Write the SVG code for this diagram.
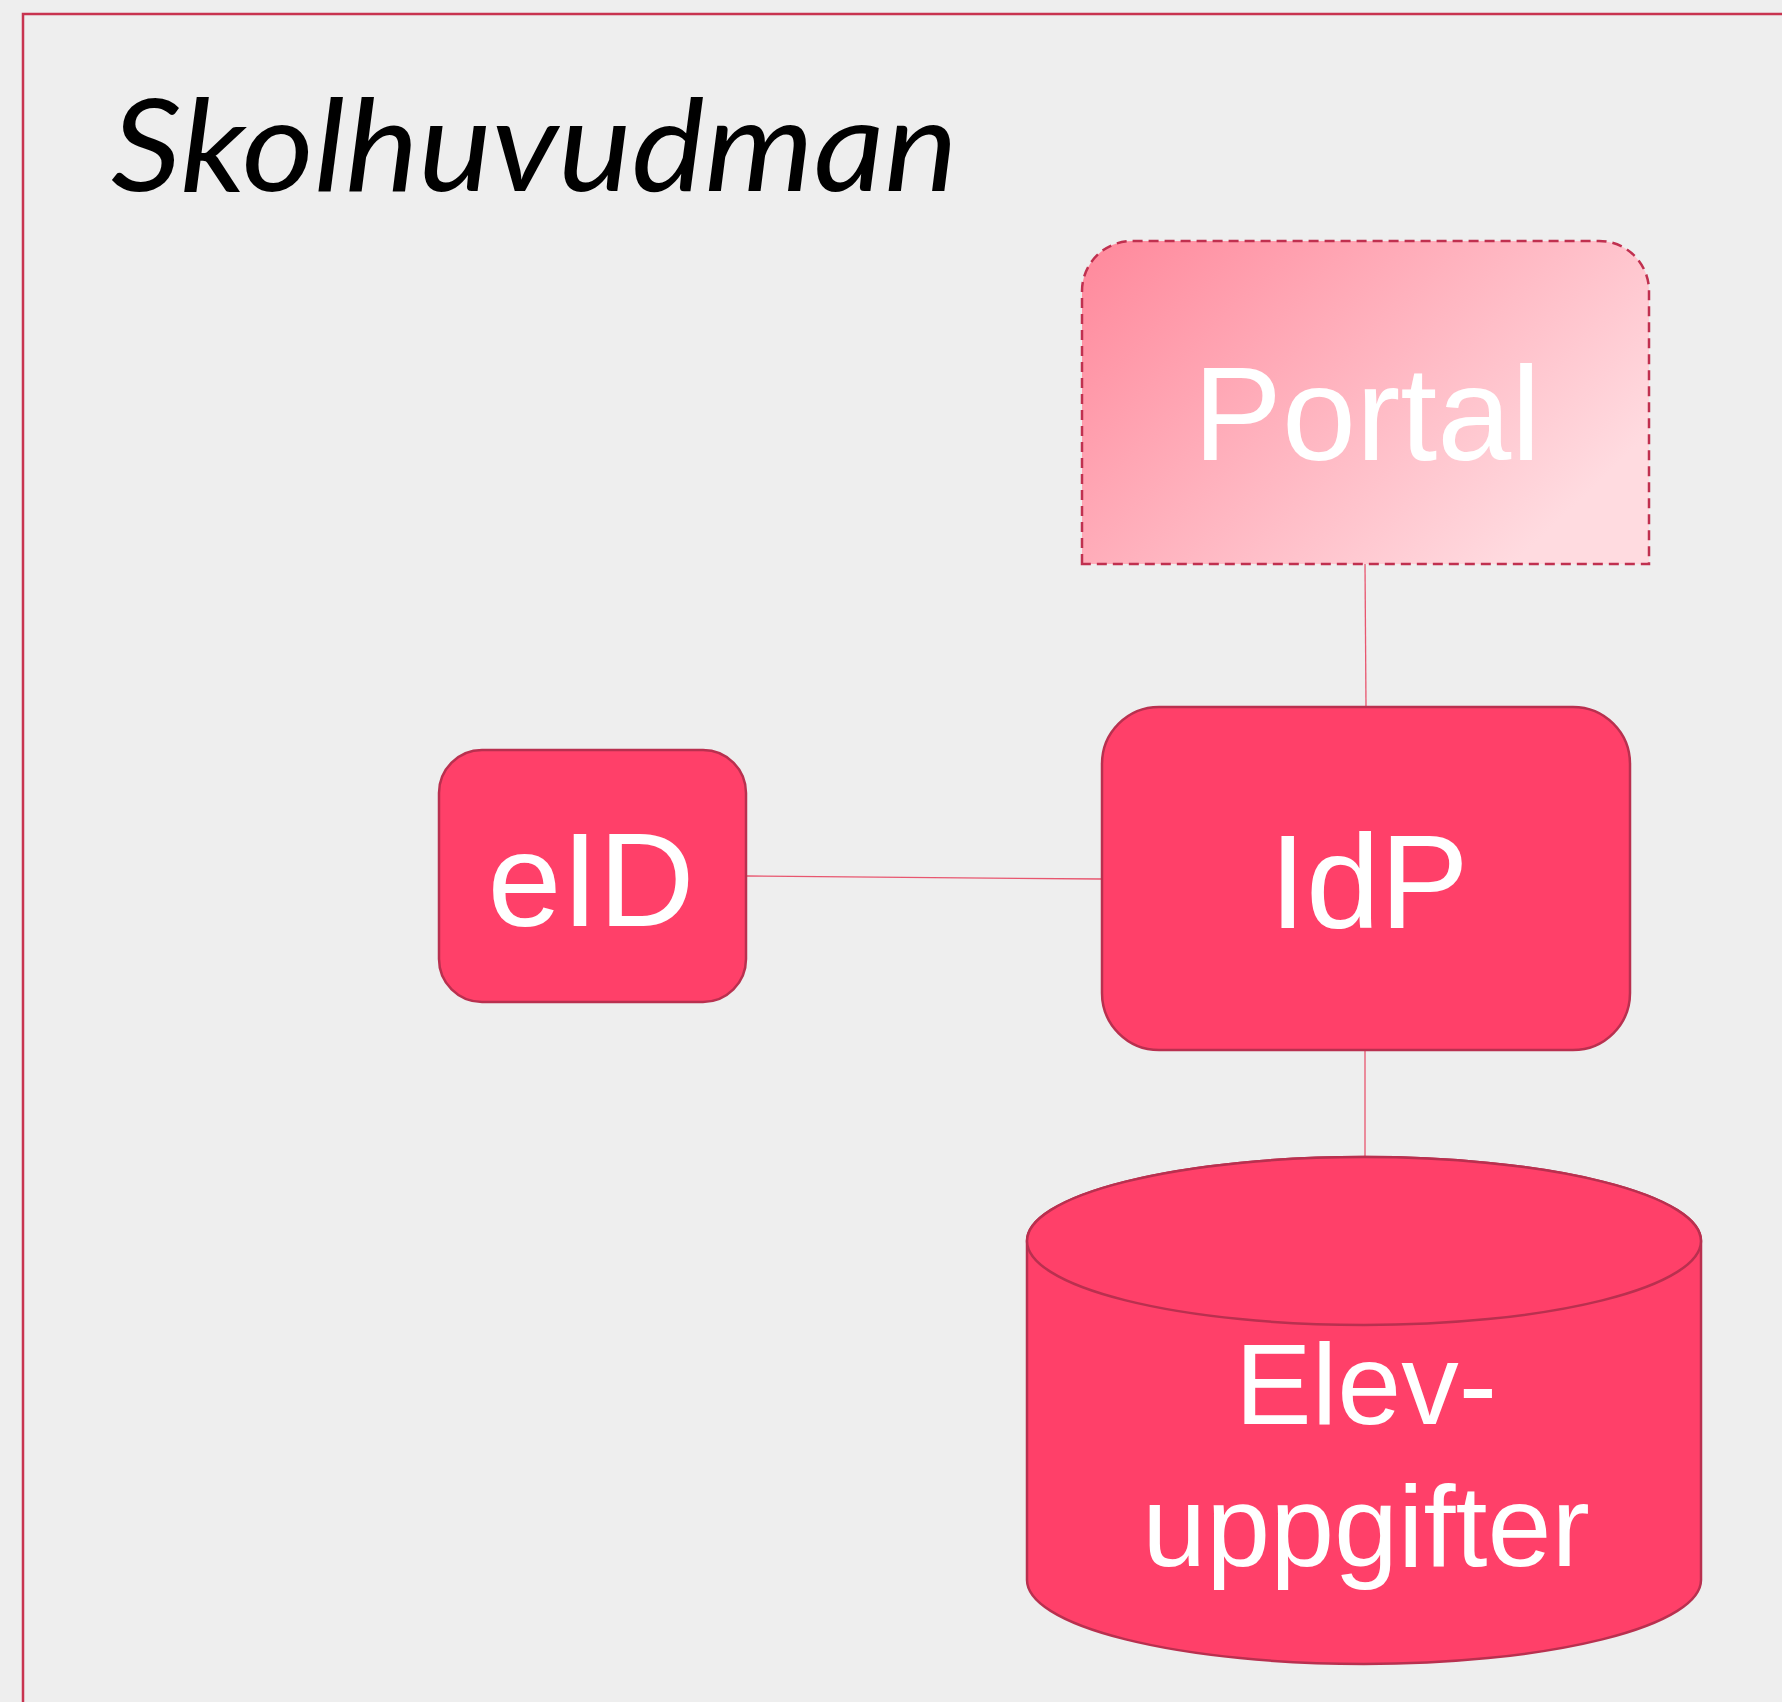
<svg xmlns="http://www.w3.org/2000/svg" width="1782" height="1702" viewBox="0 0 1782 1702">
<style>
.node{fill:#ff4069;stroke:#b9304f;stroke-width:2.5}
.lbl{font-family:"Liberation Sans",Arial,sans-serif;fill:#ffffff;text-anchor:middle}
.conn{stroke:#e8566f;stroke-width:1.3;fill:none}
</style>
<defs>
<linearGradient id="pg" x1="0" y1="0" x2="1" y2="0.6">
<stop offset="0" stop-color="#ff889b"/>
<stop offset="1" stop-color="#ffdbe0"/>
</linearGradient>
</defs>
<rect x="0" y="0" width="1782" height="1702" fill="#eeeeee"/>
<g id="frame">
<rect x="23" y="14" width="1800" height="1760" fill="none" stroke="#c8334f" stroke-width="2.5"/>
<text x="111" y="191" font-family="Lato,'Open Sans',sans-serif" font-style="italic" font-size="128" fill="#000000" textLength="847" lengthAdjust="spacingAndGlyphs">Skolhuvudman</text>
</g>
<g id="connectors">
<line class="conn" x1="1365" y1="564" x2="1366" y2="707"/>
<line class="conn" x1="746" y1="876" x2="1102" y2="879"/>
<line class="conn" x1="1365" y1="1050" x2="1365" y2="1158"/>
</g>
<g id="portal">
<path d="M1082,564 V291 A50,50 0 0 1 1132,241 H1599 A50,50 0 0 1 1649,291 V564 Z" fill="url(#pg)" stroke="#c0304f" stroke-width="2.5" stroke-dasharray="10,6"/>
<text class="lbl" x="1367" y="460" font-size="133">Portal</text>
</g>
<g id="eid">
<rect class="node" x="439" y="750" width="307" height="252" rx="43" ry="43"/>
<text class="lbl" x="591" y="926" font-size="133">eID</text>
</g>
<g id="idp">
<rect class="node" x="1102" y="707" width="528" height="343" rx="57" ry="57"/>
<text class="lbl" x="1369" y="928" font-size="133">IdP</text>
</g>
<g id="elevuppgifter">
<path class="node" d="M1027,1241 V1580 A337,84 0 0 0 1701,1580 V1241 A337,84 0 0 0 1027,1241 Z"/>
<ellipse class="node" cx="1364" cy="1241" rx="337" ry="84"/>
<text class="lbl" x="1366" y="1424" font-size="115">Elev-</text>
<text class="lbl" x="1366" y="1566" font-size="115">uppgifter</text>
</g>
</svg>
